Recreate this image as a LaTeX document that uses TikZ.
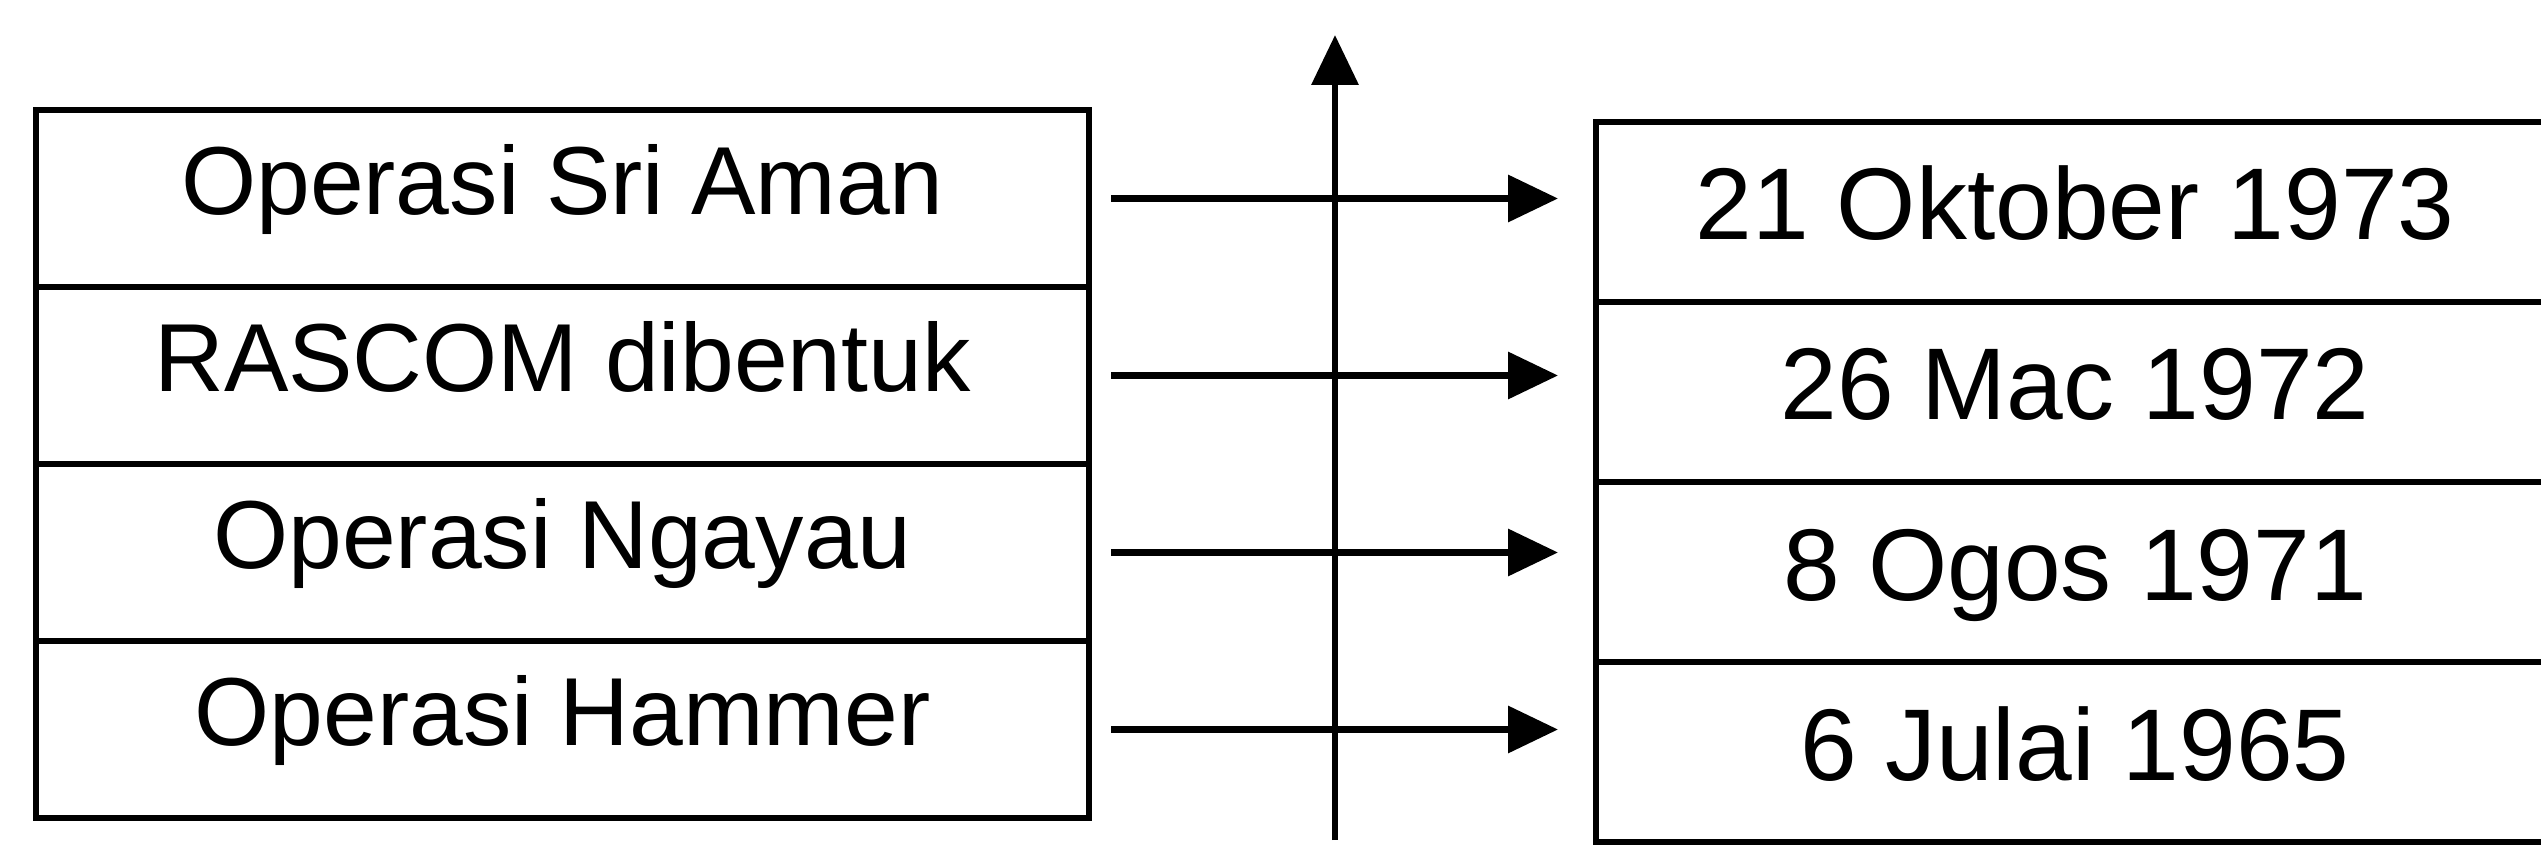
\documentclass[tikz,border=0pt]{standalone}
\usepackage{fontspec}
\setmainfont{Liberation Sans}
\usetikzlibrary{arrows.meta,positioning}
\tikzset{every picture/.style={
  >={Triangle[length=0.5cm,width=0.46cm]}  % Filled triangle tips.
  }
}

\begin{document}
\begin{tikzpicture}[
    font=\fontsize{27.5}{33}\selectfont,
    evbox/.style={
      minimum width=10.53cm,
      minimum height=1.77cm,
      text height=0.75cm,
      text depth=0.43cm,
      inner sep=0pt,
      outer sep=0pt,
      line width=1.5pt,
      draw
    },
    datebox/.style={
      font=\fontsize{29}{35}\selectfont,
      minimum width=9.58cm,
      minimum height=1.8cm,
      text height=0.78cm,
      text depth=0.22cm,
      inner sep=0pt,
      outer sep=0pt
    },
    link/.style={->,line width=1.9pt}
  ]

    % Fix the size of the page.
    \useasboundingbox (0,0) rectangle (25.41,8.6);

    % Draw the list of events.
    \begin{scope}[
      node distance=0pt
      ]
      \node[evbox] at (5.625,6.615) (e1) {Operasi Sri Aman};
      \node[evbox,below=of e1] (e2) {RASCOM dibentuk};
      \node[evbox,below=of e2] (e3) {Operasi Ngayau};
      \node[evbox,below=of e3] (e4) {Operasi Hammer};
    \end{scope}

    % Draw the list of dates.
    \begin{scope}[
      node distance=0pt
      ]
      \node[datebox] at (20.75,6.48) (d1) {21 Oktober 1973};
      \node[datebox,below=of d1] (d2) {26 Mac 1972};
      \node[datebox,below=of d2] (d3) {8 Ogos 1971};
      \node[datebox,below=of d3] (d4) {6 Julai 1965};
    \end{scope}

    % The date table runs off the right edge of the page.
    \coordinate (edge) at (25.41,0);
    \draw[line width=1.5pt] (edge |- d1.north) -- (d1.north west)
      -- (d4.south west) -- (edge |- d4.south);
    \foreach \i in {1,2,3} {
      \draw[line width=1.5pt] (d\i.south west) -- (edge |- d\i.south);
    };

    % The upward axis between the tables.
    \coordinate (axisbot) at (13.35,0.2);
    \coordinate (axistop) at (13.35,8.25);
    \draw[link] (axisbot) -- (axistop);

    % Link each event to its date.
    \foreach \i in {1,...,4} {
      \draw[link] ([xshift=0.22cm] e\i.east) --
        ([xshift=-0.38cm] e\i.east -| d\i.west);
    };
  \end{tikzpicture}
\end{document}
